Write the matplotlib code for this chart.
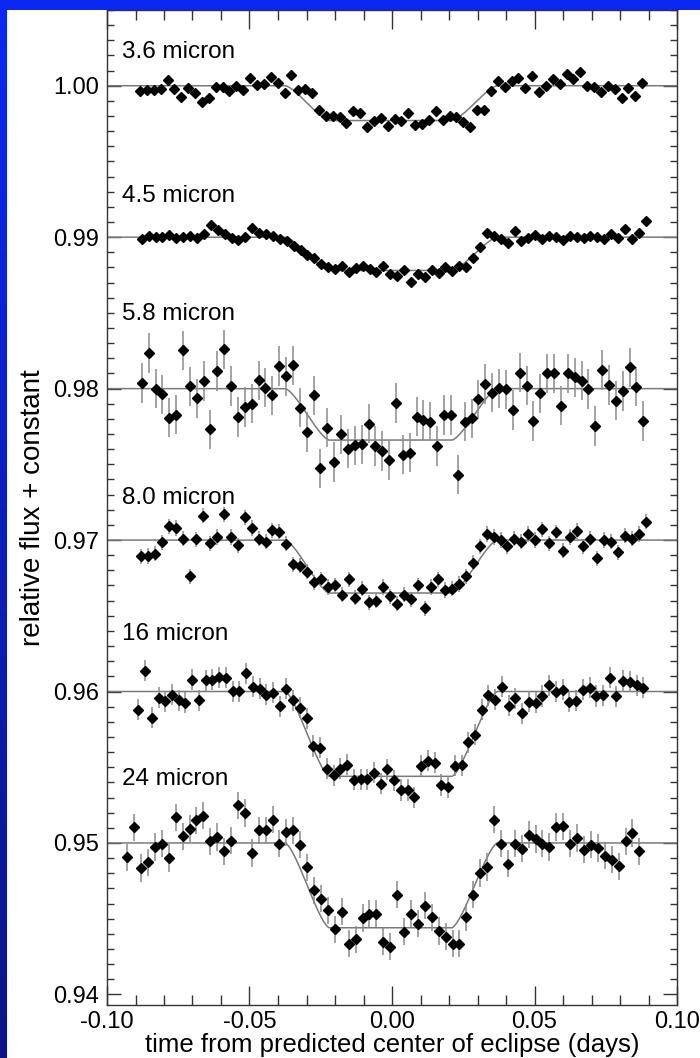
import numpy as np
import matplotlib.pyplot as plt
from matplotlib.patches import Rectangle
from matplotlib.ticker import MultipleLocator

plt.rcParams['font.family'] = ['Liberation Sans', 'DejaVu Sans']

# band names, baseline offsets and fitted eclipse depths
bands = ['3.6 micron', '4.5 micron', '5.8 micron', '8.0 micron', '16 micron', '24 micron']
baselines = [1.00, 0.99, 0.98, 0.97, 0.96, 0.95]
depths = [0.0023, 0.0022, 0.0034, 0.0035, 0.0056, 0.0056]
label_y = [1.0022, 0.9927, 0.9849, 0.9728, 0.9638, 0.9542]
errors = [0.0, 0.0, 0.0013, 0.0005, 0.0007, 0.0009]

# contact times of the eclipse model (days)
contacts = [-0.0375, -0.022, 0.021, 0.037]

# first / last time of each light curve (days)
t_start = [-0.0884, -0.0878, -0.0878, -0.0880, -0.0890, -0.0929]
t_end = [0.0878, 0.0890, 0.0882, 0.0890, 0.0882, 0.0868]

flux_36 = [
    0.99965, 0.99971, 0.99971, 0.99976, 1.00037, 0.99976, 0.99923, 0.99982, 0.99949, 0.99895,
    0.99921, 0.99993, 0.99993, 0.99967, 1.00000, 0.99971, 1.00048, 1.00004, 1.00011, 1.00055,
    1.00015, 0.99954, 1.00070, 0.99971, 0.99978, 0.99949, 0.99840, 0.99800, 0.99800, 0.99796,
    0.99756, 0.99835, 0.99818, 0.99730, 0.99769, 0.99785, 0.99734, 0.99778,
    0.99769, 0.99822, 0.99741, 0.99745, 0.99774, 0.99833, 0.99774, 0.99800, 0.99791, 0.99763,
    0.99725, 0.99840, 0.99840, 0.99967, 1.00031, 0.99989, 1.00031, 1.00053, 0.99982, 1.00066,
    0.99960, 0.99998, 1.00044, 1.00011, 1.00077, 1.00044, 1.00088, 0.99998, 0.99989, 0.99960,
    0.99998, 0.99976, 0.99921, 0.99982, 0.99932, 1.00015]

flux_45 = [
    0.98985, 0.99005, 0.98998, 0.99000, 0.99012, 0.98995, 0.99002, 0.99008, 0.98994, 0.99022,
    0.99080, 0.99048, 0.99020, 0.98992, 0.98980, 0.98998, 0.99062, 0.99030, 0.99018, 0.99005,
    0.98990, 0.98975, 0.98940, 0.98918, 0.98885, 0.98860, 0.98822, 0.98800, 0.98790, 0.98808,
    0.98770, 0.98795, 0.98812, 0.98788, 0.98770, 0.98810, 0.98760, 0.98745, 0.98785, 0.98702,
    0.98755, 0.98740, 0.98780, 0.98765, 0.98800, 0.98778, 0.98812, 0.98800, 0.98860, 0.98935,
    0.99030, 0.99010, 0.98985, 0.98960, 0.99040, 0.98978, 0.98995, 0.99012, 0.98990, 0.99005,
    0.99000, 0.98982, 0.99010, 0.99002, 0.98992, 0.99008, 0.99000, 0.98985, 0.99020, 0.98995,
    0.99055, 0.98985, 0.99030, 0.99105]

flux_58 = [
    0.98037, 0.98235, 0.98000, 0.97963, 0.97809, 0.97829, 0.98253, 0.98015, 0.97936, 0.98051,
    0.97732, 0.98116, 0.98259, 0.98018, 0.97813, 0.97879, 0.97901, 0.98055, 0.98007, 0.97956,
    0.98149, 0.98081, 0.98154, 0.97875, 0.97714, 0.97956, 0.97473, 0.97743, 0.97516, 0.97699,
    0.97604, 0.97626, 0.97631, 0.97769, 0.97620, 0.97587, 0.97527, 0.97905,
    0.97563, 0.97578, 0.97815, 0.97793, 0.97782, 0.97622, 0.97826, 0.97826, 0.97431, 0.97782,
    0.97804, 0.97930, 0.98031, 0.97974, 0.98002, 0.97996, 0.97859, 0.98105, 0.98020, 0.97787,
    0.97969, 0.98101, 0.98101, 0.97888, 0.98101, 0.98075, 0.98053, 0.97998, 0.97754, 0.98123,
    0.98024, 0.97921, 0.97985, 0.98141, 0.98013, 0.97787]

flux_80 = [
    0.96892, 0.96895, 0.96910, 0.96985, 0.97090, 0.97080, 0.97010, 0.96760, 0.97005, 0.97160,
    0.96980, 0.97020, 0.97170, 0.97020, 0.96965, 0.97150, 0.97080, 0.97010, 0.96990, 0.97065,
    0.97055, 0.96975, 0.96840, 0.96830, 0.96790, 0.96720, 0.96740, 0.96690, 0.96700, 0.96640,
    0.96740, 0.96620, 0.96680, 0.96590, 0.96600, 0.96690, 0.96630, 0.96580, 0.96640, 0.96610,
    0.96700, 0.96550, 0.96690, 0.96740, 0.96670, 0.96680, 0.96710, 0.96760, 0.96850, 0.96960,
    0.97040, 0.97020, 0.97000, 0.96960, 0.97010, 0.96990, 0.97040, 0.97000, 0.97070, 0.96980,
    0.97050, 0.96930, 0.97020, 0.97060, 0.96960, 0.97010, 0.96880, 0.97000, 0.96990, 0.96920,
    0.97030, 0.97010, 0.97040, 0.97120]

flux_16 = [
    0.95879, 0.96138, 0.95826, 0.95958, 0.95936, 0.95978, 0.95941, 0.95925, 0.96077, 0.95941,
    0.96073, 0.96077, 0.96095, 0.96090, 0.96002, 0.96002, 0.96121, 0.96033, 0.96018, 0.95978,
    0.95991, 0.95903, 0.96018, 0.95941, 0.95892, 0.95824, 0.95640, 0.95629, 0.95490, 0.95446,
    0.95490, 0.95516, 0.95418, 0.95420, 0.95420, 0.95464, 0.95391, 0.95486, 0.95413,
    0.95349, 0.95349, 0.95301, 0.95510, 0.95543, 0.95530, 0.95382, 0.95367, 0.95510, 0.95514,
    0.95664, 0.95716, 0.95881, 0.95976, 0.95947, 0.96031, 0.95905, 0.95954, 0.95855, 0.95932,
    0.95925, 0.95971, 0.96042, 0.95998, 0.96013, 0.95932, 0.95938, 0.96013, 0.96026, 0.95971,
    0.95976, 0.96090, 0.95969, 0.96070, 0.96064, 0.96042, 0.96026]

flux_24 = [
    0.94905, 0.95103, 0.94835, 0.94873, 0.94974, 0.94996, 0.94901, 0.95169, 0.95044, 0.95095,
    0.95149, 0.95180, 0.95011, 0.95040, 0.94945, 0.95015, 0.95248, 0.95198, 0.94934, 0.95084,
    0.95084, 0.95154, 0.94996, 0.95070, 0.95084, 0.94989, 0.94840, 0.94688, 0.94631, 0.94554,
    0.94429, 0.94545, 0.94334, 0.94363, 0.94505, 0.94532, 0.94532, 0.94347, 0.94314, 0.94659,
    0.94413, 0.94532, 0.94466, 0.94587, 0.94510, 0.94418, 0.94380, 0.94334, 0.94334, 0.94510,
    0.94659, 0.94802, 0.94842, 0.95154, 0.94996, 0.94864, 0.94996, 0.94963, 0.95055, 0.95026,
    0.94996, 0.94974, 0.95105, 0.95110, 0.94996, 0.95033, 0.94956, 0.94989, 0.94967, 0.94916,
    0.94890, 0.94846, 0.95011, 0.95066, 0.94945]

fluxes = [flux_36, flux_45, flux_58, flux_80, flux_16, flux_24]


def eclipse_fraction(t):
    # fraction of the planet hidden behind the star, straight-limb approximation
    t1, t2, t3, t4 = contacts
    f = np.zeros_like(t)
    ing = (t > t1) & (t < t2)
    egr = (t > t3) & (t < t4)
    full = (t >= t2) & (t <= t3)
    for mask, u in ((ing, (t - t1) / (t2 - t1)), (egr, (t4 - t) / (t4 - t3))):
        d = 1 - 2 * u[mask]
        f[mask] = (np.arccos(d) - d * np.sqrt(1 - d ** 2)) / np.pi
    f[full] = 1.0
    return f


fig = plt.figure(figsize=(7, 10.58), dpi=100)

# slide background: blue gradient with a white panel
bg = fig.add_axes([0, 0, 1, 1], zorder=-10)
top = np.array([0.04, 0.16, 0.95])
bot = np.array([0.05, 0.08, 0.52])
s = np.linspace(0, 1, 256)[:, None]
grad = (top * (1 - s) + bot * s)[:, None, :]
bg.imshow(grad, aspect='auto', extent=[0, 1, 0, 1], origin='upper')
bg.add_patch(Rectangle((7 / 700, 0), 1, 1 - 10 / 1058, color='white', lw=0))
bg.set_xlim(0, 1)
bg.set_ylim(0, 1)
bg.axis('off')

ax = fig.add_axes([107 / 700, 53 / 1058, 570 / 700, 995 / 1058])
ax.set_facecolor('white')

t_model = np.linspace(-0.1, 0.1, 1201)
frac = eclipse_fraction(t_model)

for i in range(len(bands)):
    y = np.array(fluxes[i])
    t = np.linspace(t_start[i], t_end[i], len(y))
    ax.plot(t_model, baselines[i] - depths[i] * frac, color='#7a7a7a', lw=1.1, zorder=2)
    if errors[i] > 0:
        ax.vlines(t, y - errors[i], y + errors[i], color='#8a8a8a', lw=1.1, zorder=3)
    ax.plot(t, y, ls='none', marker='D', ms=5.0, color='black', mec='black', zorder=4)
    ax.text(-0.0947, label_y[i], bands[i], fontsize=17.5, va='center', ha='left')

ax.set_xlim(-0.1, 0.1)
ax.set_ylim(0.9393, 1.005)
ax.xaxis.set_major_locator(MultipleLocator(0.05))
ax.xaxis.set_minor_locator(MultipleLocator(0.01))
ax.yaxis.set_major_locator(MultipleLocator(0.01))
ax.yaxis.set_minor_locator(MultipleLocator(0.001))
ax.xaxis.set_major_formatter(plt.FormatStrFormatter('%.2f'))
ax.yaxis.set_major_formatter(plt.FormatStrFormatter('%.2f'))
ax.tick_params(axis='both', which='both', direction='in', top=True, right=True,
               color='#333333', width=1.0, labelsize=17)
ax.tick_params(axis='x', which='major', length=14, pad=4)
ax.tick_params(axis='x', which='minor', length=7)
ax.tick_params(axis='y', which='major', length=10, pad=6)
ax.tick_params(axis='y', which='minor', length=5)
for sp in ax.spines.values():
    sp.set_color('#333333')
    sp.set_linewidth(1.0)

ax.set_xlabel('time from predicted center of eclipse (days)', fontsize=18.5, labelpad=0)
ax.set_ylabel('relative flux + constant', fontsize=20, labelpad=5)

fig.savefig('out.png', dpi=100)
